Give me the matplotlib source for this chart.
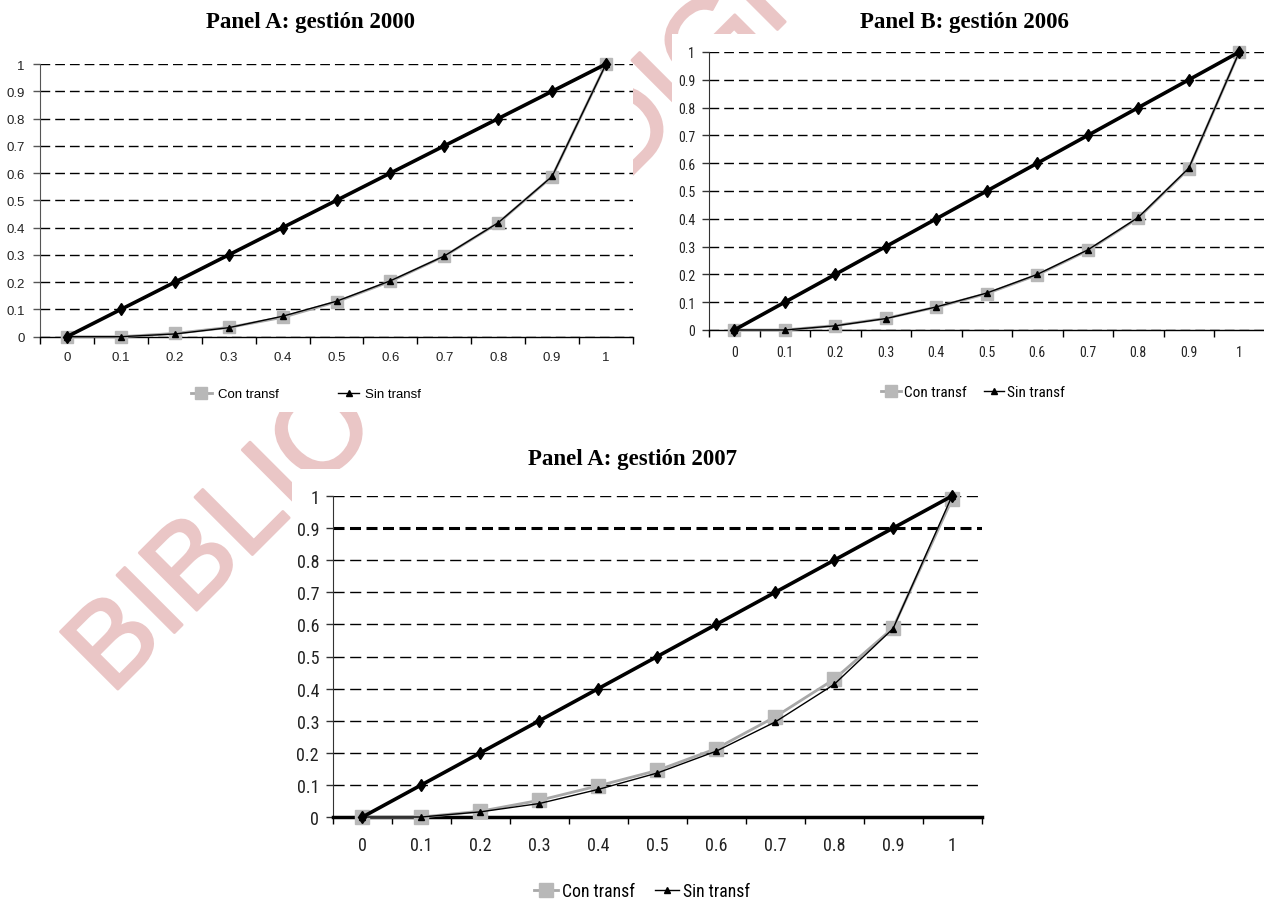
import numpy as np
import matplotlib.pyplot as plt
import matplotlib.patheffects as pe
from matplotlib.patches import Rectangle

W, H = 1264, 903

deciles = ['0', '0.1', '0.2', '0.3', '0.4', '0.5', '0.6', '0.7', '0.8', '0.9', '1']
igualdad = [0, 0.1, 0.2, 0.3, 0.4, 0.5, 0.6, 0.7, 0.8, 0.9, 1.0]

con_2000 = [0, 0, 0.012, 0.034, 0.071, 0.128, 0.203, 0.295, 0.417, 0.587, 1.0]
sin_2000 = [0, 0, 0.010, 0.033, 0.075, 0.130, 0.205, 0.296, 0.418, 0.588, 1.0]
con_2006 = [0, 0, 0.016, 0.042, 0.082, 0.131, 0.198, 0.286, 0.403, 0.580, 1.0]
sin_2006 = [0, 0, 0.015, 0.041, 0.083, 0.133, 0.200, 0.288, 0.405, 0.582, 1.0]
con_2007 = [0, 0, 0.018, 0.052, 0.097, 0.145, 0.213, 0.312, 0.429, 0.589, 0.99]
sin_2007 = [0, 0, 0.016, 0.042, 0.086, 0.137, 0.205, 0.296, 0.413, 0.587, 1.0]

titulos = ['Panel A: gestión 2000', 'Panel B: gestión 2006', 'Panel A: gestión 2007']


def fx(px):
    return px / W


def fy(py):
    return 1 - py / H


fig = plt.figure(figsize=(W / 100, H / 100), dpi=100)

# watermark, mostly hidden behind the pasted charts
wm_col = '#eac6c6'
fig.text(fx(111), fy(697), 'BIBLIOTECA DIGITAL', rotation=45, rotation_mode='anchor',
         ha='left', va='baseline', fontsize=85, color=wm_col,
         family='Liberation Sans', zorder=-3,
         path_effects=[pe.withStroke(linewidth=2, foreground=wm_col)])
for x0, y0, x1, y1 in [(0, 0, 628, 413), (672, 35, W, 410), (292, 470, 1000, H)]:
    fig.patches.append(Rectangle((fx(x0), fy(y1)), (x1 - x0) / W, (y1 - y0) / H,
                                 transform=fig.transFigure, facecolor='white',
                                 edgecolor='none', zorder=-2))


def panel(rect, con, sin, tick_fam, tick_fs, tick_pad, sq_ms, leg_fam, leg_fs, leg_xy,
          leg_kw, dash, bottom_lw=1.0, spine_col='#555555'):
    ax = fig.add_axes(rect)
    ax.set_facecolor('white')
    x = np.arange(len(deciles))
    ax.plot(x, igualdad, color='black', lw=2.6, marker='d', ms=6, clip_on=False, zorder=4)
    ax.plot(x, con, color='#a8a8a8', lw=2, marker='s', ms=sq_ms, mfc='#b8b8b8',
            mec='#b8b8b8', clip_on=False, zorder=3, label='Con transf')
    ax.plot(x, sin, color='black', lw=1, marker='^', ms=5, clip_on=False, zorder=5,
            label='Sin transf')
    ax.set_xlim(-0.5, 10.5)
    ax.set_ylim(0, 1)

    ax.set_xticks(np.arange(-0.5, 11, 1))
    ax.set_xticklabels([])
    ax.set_xticks(x, minor=True)
    ax.set_xticklabels(deciles, minor=True, family=tick_fam, fontsize=tick_fs, color='#222222')
    ax.tick_params(axis='x', which='minor', length=0, pad=tick_pad[0])
    ax.tick_params(axis='x', which='major', length=5, width=1, direction='out')
    ax.set_yticks(igualdad)
    ax.set_yticklabels(deciles, family=tick_fam, fontsize=tick_fs, color='#222222')
    ax.tick_params(axis='y', length=5, width=1, pad=tick_pad[1], color=spine_col)

    ax.yaxis.grid(True, color='black', lw=1, linestyle=(0, dash))
    ax.set_axisbelow(True)
    for s in ['top', 'right']:
        ax.spines[s].set_visible(False)
    ax.spines['left'].set_color(spine_col)
    ax.spines['bottom'].set_linewidth(bottom_lw)

    ax.legend(loc='center', bbox_to_anchor=(fx(leg_xy[0]), fy(leg_xy[1])),
              bbox_transform=fig.transFigure, ncol=2, frameon=False, numpoints=1,
              prop={'family': leg_fam, 'size': leg_fs}, borderpad=0, **leg_kw)
    return ax


narrow = ['Roboto Condensed', 'Liberation Sans Narrow', 'Arial Narrow', 'Liberation Sans']

ax_a = panel([fx(40), fy(337.7), (633 - 40) / W, (337.7 - 65) / H], con_2000, sin_2000,
             'Liberation Sans', 9.5, (10.5, 6), 9, 'Liberation Sans', 9.5, (306, 395),
             dict(handlelength=1.6, handletextpad=0.45, columnspacing=4.5), (7, 3.6))
ax_b = panel([fx(709), fy(331), (1264.5 - 709) / W, (331 - 53) / H], con_2006, sin_2006,
             narrow, 10, (11, 5), 8, narrow, 11, (973, 393),
             dict(handlelength=1.3, handletextpad=0.2, columnspacing=1.1), (7, 3.6),
             spine_col='#333333')
ax_c = panel([fx(333), fy(818), (981.5 - 333) / W, (818 - 497) / H], con_2007, sin_2007,
             narrow, 13, (14, 5), 10, narrow, 12.7, (642, 892),
             dict(handlelength=1.35, handletextpad=0.25, columnspacing=1.15), (8, 4),
             bottom_lw=2.5, spine_col='#333333')
g09 = ax_c.get_ygridlines()[9]
g09.set_linewidth(2.2)
g09.set_dashes([3.6, 1.8])

for t, (cx, cy) in zip(titulos, [(310, 28), (964, 28), (632, 465)]):
    fig.text(fx(cx), fy(cy), t, ha='center', va='baseline', family='Liberation Serif',
             fontweight='bold', fontsize=16.5)

fig.savefig('out.png', dpi=100)
